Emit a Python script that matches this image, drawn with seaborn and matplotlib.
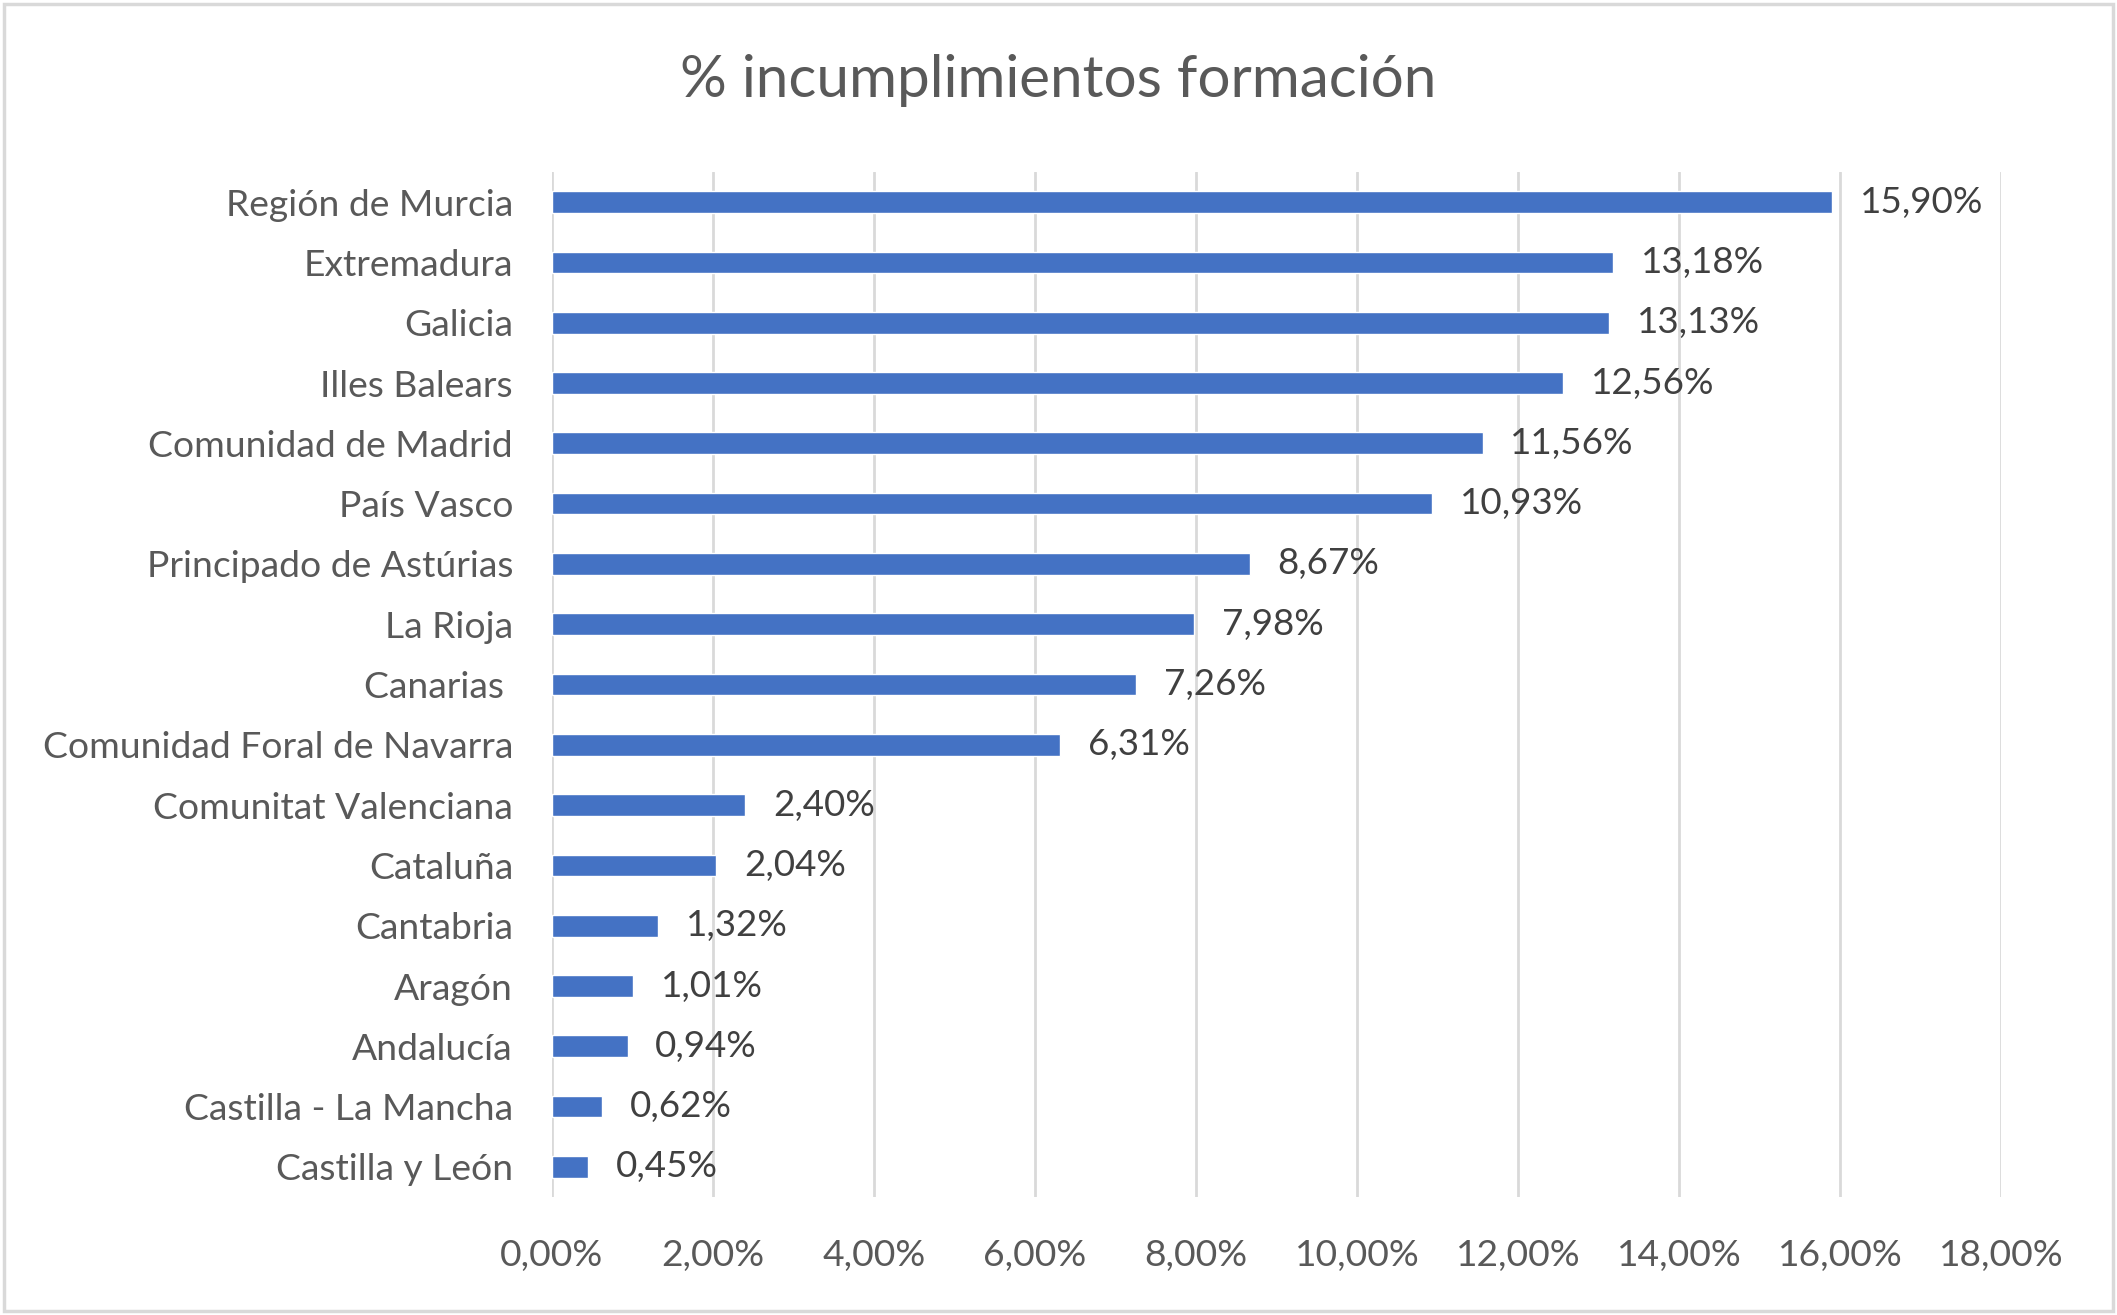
import matplotlib
matplotlib.use("Agg")
import matplotlib.pyplot as plt
import seaborn as sns
import pandas as pd
from matplotlib.patches import Rectangle
from matplotlib.ticker import FuncFormatter

# data (top to bottom)
regiones = [
    "Región de Murcia", "Extremadura", "Galicia", "Illes Balears",
    "Comunidad de Madrid", "País Vasco", "Principado de Astúrias", "La Rioja",
    "Canarias ", "Comunidad Foral de Navarra", "Comunitat Valenciana",
    "Cataluña", "Cantabria", "Aragón", "Andalucía", "Castilla - La Mancha",
    "Castilla y León",
]
incumplimientos = [
    15.90, 13.18, 13.13, 12.56, 11.56, 10.93, 8.67, 7.98, 7.26, 6.31,
    2.40, 2.04, 1.32, 1.01, 0.94, 0.62, 0.45,
]
x_ticks = [0, 2, 4, 6, 8, 10, 12, 14, 16, 18]

df = pd.DataFrame({"region": regiones, "pct": incumplimientos})

sns.set_theme(style="white")
plt.rcParams["font.family"] = ["Lato", "DejaVu Sans"]

BLUE = "#4472C4"
GRID = "#D9D9D9"
TXT = "#595959"

fig = plt.figure(figsize=(21.17, 13.15), dpi=100)
ax = fig.add_axes([0.2607, 0.0897, 0.6845, 0.7795])

sns.barplot(data=df, x="pct", y="region", orient="h", color=BLUE,
            width=0.36, saturation=1, ax=ax)

ax.set_xlim(0, 18)
ax.set_ylim(16.5, -0.5)
ax.set_xticks(x_ticks)
ax.xaxis.set_major_formatter(FuncFormatter(lambda v, _: f"{v:.2f}%".replace(".", ",")))
ax.grid(axis="x", color=GRID, linewidth=2)
ax.set_axisbelow(True)
for s in ax.spines.values():
    s.set_visible(False)
ax.tick_params(axis="both", length=0, labelsize=26.8, colors=TXT)
ax.tick_params(axis="y", pad=28)
ax.tick_params(axis="x", pad=30)
ax.set_xlabel("")
ax.set_ylabel("")

labels = [f"{v:.2f}%".replace(".", ",") for v in incumplimientos]
ax.bar_label(ax.containers[0], labels=labels, padding=20, fontsize=26.5,
             color="#404040")

fig.suptitle("% incumplimientos formación", x=0.5, y=0.939, va="center",
             fontsize=42, color=TXT)

# light frame around the chart area
fig.patches.append(Rectangle((0.002, 0.003), 0.996, 0.994, transform=fig.transFigure,
                             fill=False, edgecolor=GRID, linewidth=2.5))

fig.savefig("out.png", dpi=100)
plt.close(fig)
